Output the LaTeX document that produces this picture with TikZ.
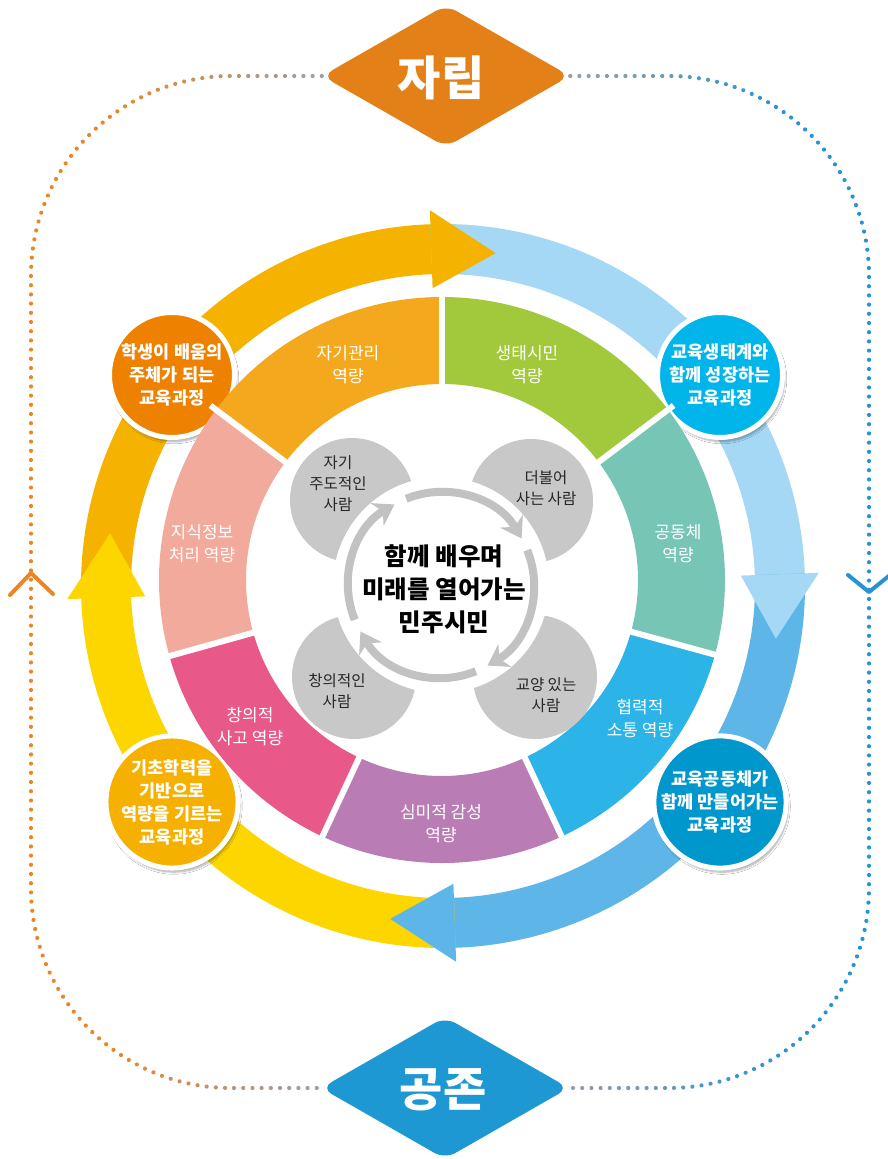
\documentclass[tikz,border=0pt]{standalone}
\usepackage{fontspec}
\setmainfont{Noto Sans CJK KR}
\usetikzlibrary{calc,arrows.meta,shapes.geometric,shadows.blur,decorations.markings}
\definecolor{dtop}{HTML}{E38118}
\definecolor{dbot}{HTML}{1D98D3}
\definecolor{eorange}{HTML}{EA8627}
\definecolor{eblue}{HTML}{2693D4}
\definecolor{dgray}{HTML}{9A9DA6}
\definecolor{ringO}{HTML}{F5B300}
\definecolor{ringL}{HTML}{A4D8F4}
\definecolor{ringB}{HTML}{5DB6E7}
\definecolor{ringY}{HTML}{FDD600}
\definecolor{cTL}{HTML}{EE8200}
\definecolor{cTR}{HTML}{00B5EA}
\definecolor{cBL}{HTML}{F6B000}
\definecolor{cBR}{HTML}{0097CD}
\definecolor{sA}{HTML}{F4A81D}
\definecolor{sB}{HTML}{A2C83B}
\definecolor{sC}{HTML}{77C5B5}
\definecolor{sD}{HTML}{2CB4E8}
\definecolor{sE}{HTML}{BA7CB5}
\definecolor{sF}{HTML}{E8598A}
\definecolor{sG}{HTML}{F2AA9C}
\definecolor{gcirc}{HTML}{C8C8C8}
\definecolor{garrow}{HTML}{C2C2C2}
\tikzset{
  dotgrad/.style={postaction={decorate,decoration={markings,
    mark=between positions 0 and 1 step 9.2pt with {
      \pgfmathsetmacro\mydd{\pgfkeysvalueof{/pgf/decoration/mark info/distance from start}}
      \pgfmathsetmacro\myff{min(\mydd,\pgfdecoratedpathlength-\mydd)}
      \pgfmathtruncatemacro\mypc{min(100,\myff/2.2)}
      \fill[#1!\mypc!dgray] (0,0) circle (2.1pt);
    }}}},
  bigdiam/.style={diamond, minimum width=248pt, minimum height=142pt, inner sep=0pt, rounded corners=12pt},
  diamtext/.style={text=white, font=\fontsize{47}{47}\selectfont\bfseries},
  curcircle/.style={circle, minimum size=125pt, inner sep=0pt, draw=white, line width=5pt,
     text=white, align=center, font=\fontsize{17.5}{23}\selectfont\bfseries,
     blur shadow={shadow xshift=2pt, shadow yshift=-4pt, shadow blur steps=8, shadow opacity=35}},
  segtext/.style={text=white, align=center, font=\fontsize{17}{23}\selectfont},
  graycirc/.style={circle, fill=gcirc, minimum size=124pt, inner sep=0pt},
  graytext/.style={text=black!85, align=center, font=\fontsize{15.5}{21}\selectfont},
  grayarrow/.style={draw=garrow, line width=8pt, -{Stealth[length=20pt,width=26pt]}},
  chevron/.style={line width=4pt, line cap=round, line join=round}
}
\begin{document}
\begin{tikzpicture}[x=1pt,y=-1pt]
\useasboundingbox (0,0) rectangle (888,1159);
\fill[white] (0,0) rectangle (888,1159);

\coordinate (C0) at (442,580);
\coordinate (C1) at (443,586);
\coordinate (C2) at (441,585);

% diamonds
\node[bigdiam, fill=dtop] (zarip) at (446,76) {};
\node[diamtext] at (441,78) {자립};
\node[bigdiam, fill=dbot] (gongjon) at (445,1088) {};
\node[diamtext] at (443,1090) {공존};

% dotted frame
\coordinate (LT) at (31,76);
\coordinate (LB) at (31,1088);
\coordinate (RT) at (869,76);
\coordinate (RB) at (869,1088);
\path[rounded corners=200pt, dotgrad=eorange] (zarip.west) -- (LT) -- (LB) -- (gongjon.west);
\path[rounded corners=200pt, dotgrad=eblue] (zarip.east) -- (RT) -- (RB) -- (gongjon.east);
\draw[chevron, eorange] (10,595) -- (31,573) -- (53,594);
\draw[chevron, eblue] (848,575) -- (869,592) -- (890,575);

% big ring bands
\fill[ringO] ($(C1)+(178:362)$) arc[start angle=178,end angle=268.5,radius=362] -- ($(C1)+(268.5:312)$) arc[start angle=268.5,end angle=178,radius=312] -- cycle;
\fill[ringL] ($(C1)+(268:362)$) arc[start angle=268,end angle=358.5,radius=362] -- ($(C1)+(358.5:312)$) arc[start angle=358.5,end angle=268,radius=312] -- cycle;
\fill[ringB] ($(C1)+(358:362)$) arc[start angle=358,end angle=448.5,radius=362] -- ($(C1)+(448.5:312)$) arc[start angle=448.5,end angle=358,radius=312] -- cycle;
\fill[ringY] ($(C1)+(88:362)$) arc[start angle=88,end angle=178.5,radius=362] -- ($(C1)+(178.5:312)$) arc[start angle=178.5,end angle=88,radius=312] -- cycle;
% heads
\fill[ringO] ($(C1)+(268:376)$) -- ($(C1)+(279:337)$) -- ($(C1)+(268:298)$) -- cycle;
\fill[ringL] ($(C1)+(358:376)$) -- ($(C1)+(369:337)$) -- ($(C1)+(358:298)$) -- cycle;
\fill[ringB] ($(C1)+(448:376)$) -- ($(C1)+(459:337)$) -- ($(C1)+(448:298)$) -- cycle;
\fill[ringY] ($(C1)+(178:376)$) -- ($(C1)+(189:337)$) -- ($(C1)+(178:298)$) -- cycle;

% curriculum circles
\node[curcircle, fill=cTL] (k1) at (172,375) {학생이 배움의\\주체가 되는\\교육과정};
\node[curcircle, fill=cTR] (k2) at (720,375) {교육생태계와\\함께 성장하는\\교육과정};
\node[curcircle, fill=cBR] (k3) at (720,802) {교육공동체가\\함께 만들어가는\\교육과정};
\node[curcircle, fill=cBL] (k4) at (172,802) {기초학력을\\기반으로\\역량을 기르는\\교육과정};

% wheel segments
\foreach \aa/\bb/\cc in {-143/-90/sA, -90/-37/sB, -37/15.3/sC, 15.3/65/sD, 65/115/sE, 115/164.4/sF, 164.4/217/sG}{
  \fill[\cc] ($(C0)+(\aa:283)$) arc[start angle=\aa, end angle=\bb, radius=283] -- ($(C0)+(\bb:196)$) arc[start angle=\bb, end angle=\aa, radius=196] -- cycle;
}
\foreach \aa in {-90,-37,15.3,65,115,164.4,217}{
  \draw[white, line width=6pt] ($(C0)+(\aa:190)$) -- ($(C0)+(\aa:290)$);
}
\node[segtext] (t1) at (348,365) {자기관리\\역량};
\node[segtext] (t2) at (527,365) {생태시민\\역량};
\node[segtext] (t3) at (678,544) {공동체\\역량};
\node[segtext] (t4) at (640,719) {협력적\\소통 역량};
\node[segtext] (t5) at (441,824) {심미적 감성\\역량};
\node[segtext] (t6) at (250,727) {창의적\\사고 역량};
\node[segtext] (t7) at (202,544) {지식정보\\처리 역량};

% inner gray circles
\node[graycirc] (p1) at (352,500) {};
\node[graycirc] (p2) at (531,501) {};
\node[graycirc] (p3) at (535,677) {};
\node[graycirc] (p4) at (354,677) {};
\fill[white] (C2) circle (108);

% gray cycle arrows
\draw[grayarrow] ($(C2)+(-202:93)$) arc[start angle=-202, end angle=-120, radius=93];
\draw[grayarrow] ($(C2)+(-112:93)$) arc[start angle=-112, end angle=-30, radius=93];
\draw[grayarrow] ($(C2)+(-22:93)$) arc[start angle=-22, end angle=60, radius=93];
\draw[grayarrow] ($(C2)+(68:93)$) arc[start angle=68, end angle=150, radius=93];

\node[graytext] (q1) at (338,484) {자기\\주도적인\\사람};
\node[graytext] (q2) at (546,488) {더불어\\사는 사람};
\node[graytext] (q3) at (546,695) {교양 있는\\사람};
\node[graytext] (q4) at (337,691) {창의적인\\사람};

\node[align=center, font=\fontsize{24.5}{33}\selectfont\bfseries] (center) at (444,589) {함께 배우며\\미래를 열어가는\\민주시민};
\end{tikzpicture}
\end{document}
